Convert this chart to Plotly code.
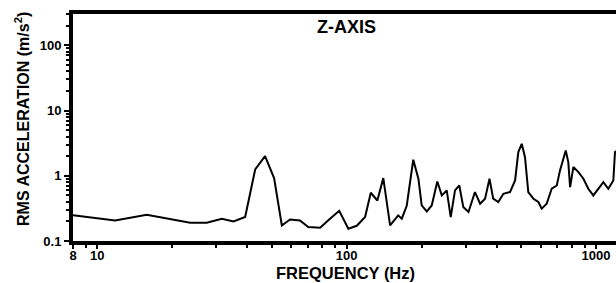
import plotly.graph_objects as go
import math

# Frequency (Hz) and RMS acceleration (m/s^2)
freq_hz = [8, 9.65, 11.8, 15.8, 23.6, 27.5, 31.6, 35.2, 39.2, 43, 47.1, 51.2, 55,
           59.3, 65, 70.2, 78.3, 85.8, 93.4, 101.6, 109.8, 118.6, 125, 132.8, 140.3,
           149.4, 161, 166.4, 174.2, 185, 194, 200, 209.6, 219.4, 231, 240.8, 252,
           261.5, 272, 283, 293.6, 308, 327, 343, 359, 374, 387, 405.6, 425, 452,
           473.6, 488, 503.6, 519, 535, 561, 587, 605.6, 634, 664, 696, 717, 740,
           756, 774, 787, 811, 850, 890, 931, 975, 1021, 1070, 1120, 1173, 1191, 1230]
rms_accel = [0.248, 0.227, 0.207, 0.253, 0.191, 0.191, 0.220, 0.200, 0.233, 1.25, 2.0,
             0.92, 0.173, 0.214, 0.207, 0.164, 0.160, 0.220, 0.291, 0.154, 0.171, 0.233,
             0.549, 0.418, 0.92, 0.173, 0.247, 0.220, 0.347, 1.76, 0.90, 0.351, 0.284,
             0.351, 0.818, 0.499, 0.596, 0.233, 0.596, 0.71, 0.332, 0.278, 0.563, 0.373,
             0.445, 0.90, 0.445, 0.396, 0.530, 0.563, 0.847, 2.31, 3.09, 1.93, 0.563,
             0.445, 0.396, 0.313, 0.373, 0.632, 0.71, 1.21, 1.82, 2.44, 1.62, 0.671,
             1.36, 1.14, 0.90, 0.632, 0.499, 0.632, 0.80, 0.632, 0.847, 2.31, 2.5]

x_tick_vals = [8, 10, 100, 1000]
x_tick_text = ["8", "10", "100", "1000"]
y_tick_vals = [0.1, 1, 10, 100]
y_tick_text = ["0.1", "1", "10", "100"]

x_minor = [9] + [m * d for d in (10, 100, 1000) for m in range(2, 10)]
y_minor = [m * d for d in (0.1, 1, 10, 100) for m in range(2, 10)]

title_text = "Z-AXIS"
x_title = "FREQUENCY (Hz)"
y_title = "RMS ACCELERATION (m/s<sup>2</sup>)"

FONT = "Liberation Sans"

W, H = 616, 283
L, R, T, B = 73, 0, 14, 42
PW, PH = W - L - R, H - T - B


def px(xp):
    return (xp - L) / PW


def py(yp):
    return (H - B - yp) / PH


fig = go.Figure()
fig.add_trace(go.Scatter(x=freq_hz, y=rms_accel, mode="lines",
                         line=dict(color="black", width=2), hoverinfo="skip"))

fig.update_layout(
    template="none",
    width=W, height=H,
    margin=dict(l=L, r=R, t=T, b=B, pad=0),
    paper_bgcolor="white", plot_bgcolor="white",
    showlegend=False,
    font=dict(family=FONT, color="black"),
    xaxis=dict(type="log", range=[math.log10(8), 3.08], automargin=False,
               tickvals=x_tick_vals, ticktext=x_tick_text,
               tickfont=dict(size=13, weight="bold", family=FONT),
               ticklabelstandoff=-5,
               ticks="outside", ticklen=4, tickwidth=2, tickcolor="black",
               minor=dict(tickvals=x_minor, ticks="outside", ticklen=3,
                          tickwidth=2, tickcolor="black", showgrid=False),
               showline=True, linewidth=4, linecolor="black", mirror=True,
               showgrid=False, zeroline=False),
    yaxis=dict(type="log", range=[-1, 2.48], automargin=False,
               tickvals=y_tick_vals, ticktext=y_tick_text,
               tickfont=dict(size=13, weight="bold", family=FONT),
               ticks="outside", ticklen=5, tickwidth=2, tickcolor="black",
               minor=dict(tickvals=y_minor, ticks="outside", ticklen=3,
                          tickwidth=1.5, tickcolor="black", showgrid=False),
               showline=True, linewidth=4, linecolor="black",
               showgrid=False, zeroline=False),
    annotations=[
        dict(text=title_text, x=px(346), y=py(27), xref="paper", yref="paper",
             xanchor="center", yanchor="middle", showarrow=False,
             font=dict(size=18, weight="bold", family=FONT)),
        dict(text=x_title, x=px(345), y=py(273), xref="paper", yref="paper",
             xanchor="center", yanchor="middle", showarrow=False, borderpad=0,
             font=dict(size=16.5, weight="bold", family=FONT)),
        dict(text=y_title, x=px(22), y=py(119), xref="paper", yref="paper",
             xanchor="center", yanchor="middle", textangle=-90,
             showarrow=False, font=dict(size=16, weight="bold", family=FONT)),
    ],
)

fig.write_html(
    "out.html",
    config={"displayModeBar": False},
    post_script="document.body.style.margin='0';document.body.style.overflow='hidden';",
)
